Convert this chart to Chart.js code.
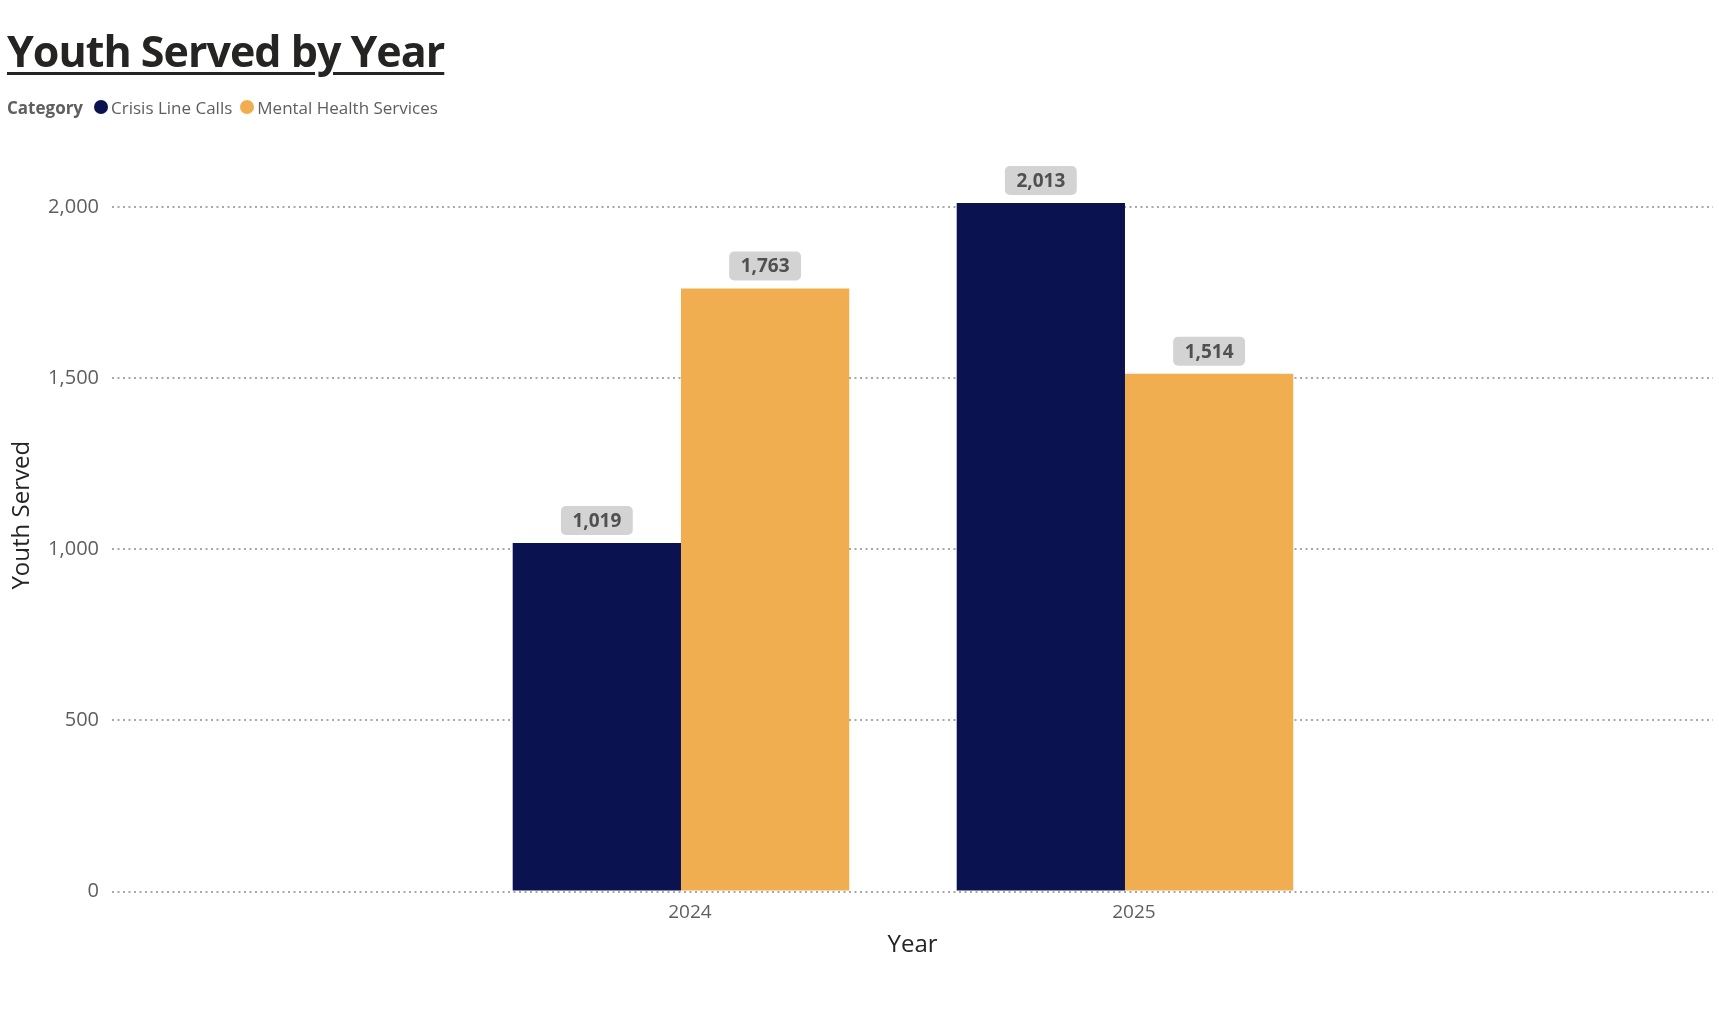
<!DOCTYPE html>
<html>
<head>
<meta charset="utf-8">
<script src="https://cdn.jsdelivr.net/npm/chart.js@4/dist/chart.umd.min.js"></script>
<style>
  html, body { margin:0; padding:0; background:#fff; width:1719px; height:1009px; overflow:hidden; }
  #wrap { position:relative; width:1719px; height:1009px; }
  #chart { position:absolute; left:0; top:0; }
  #title { position:absolute; left:7px; top:23px; margin:0; font-family:'Open Sans', sans-serif; font-weight:700;
           font-size:43px; letter-spacing:-1px; line-height:56px; color:#252423; text-decoration:underline; text-decoration-thickness:3px;
           text-underline-offset:5px; white-space:nowrap; }
  #legend { position:absolute; left:7px; top:95px; height:24px; display:flex; align-items:center;
            font-family:'Open Sans', sans-serif; font-size:17px; color:#605E5C; white-space:nowrap; }
  #legend .lt { font-weight:700; margin-right:11px; color:#605E5C; }
  #legend .dot { width:14px; height:14px; border-radius:50%; display:inline-block; margin-right:3px; }
  #legend .item { display:flex; align-items:center; margin-right:8px; }
</style>
</head>
<body>
<div id="wrap">
  <canvas id="chart" width="1719" height="1009"></canvas>
  <div id="title">Youth Served by Year</div>
  <div id="legend"></div>
</div>
<script>
const categories = ['2024', '2025'];
const crisisLineCalls = [1019, 2013];
const mentalHealthServices = [1763, 1514];
const yTickValues = [0, 500, 1000, 1500, 2000];
const seriesNames = ['Crisis Line Calls', 'Mental Health Services'];
const seriesColors = ['#0A1250', '#F0AE50'];

const FONT = "'Open Sans', sans-serif";

const dataLabelPlugin = {
  id: 'dataLabels',
  afterDatasetsDraw(chart) {
    const ctx = chart.ctx;
    ctx.save();
    ctx.font = "700 19px " + FONT;
    ctx.textAlign = 'center';
    ctx.textBaseline = 'middle';
    chart.data.datasets.forEach((ds, di) => {
      const meta = chart.getDatasetMeta(di);
      meta.data.forEach((bar, i) => {
        const txt = ds.data[i].toLocaleString('en-US');
        const w = ctx.measureText(txt).width + 23;
        const h = 29;
        const x = bar.x;
        const yb = bar.y - 8;
        ctx.fillStyle = '#D3D3D3';
        ctx.beginPath();
        ctx.roundRect(x - w / 2, yb - h, w, h, 5);
        ctx.fill();
        ctx.fillStyle = '#505050';
        ctx.fillText(txt, x, yb - h / 2 + 1);
      });
    });
    ctx.restore();
  }
};

const chart = new Chart(document.getElementById('chart'), {
  type: 'bar',
  data: {
    labels: categories,
    datasets: [
      { label: seriesNames[0], data: crisisLineCalls, backgroundColor: seriesColors[0] },
      { label: seriesNames[1], data: mentalHealthServices, backgroundColor: seriesColors[1] }
    ]
  },
  options: {
    responsive: false,
    animation: false,
    devicePixelRatio: 1,
    layout: { padding: { top: 139, right: 6, bottom: 0, left: 0 } },
    datasets: { bar: { categoryPercentage: 0.758, barPercentage: 1.0, borderWidth: 0 } },
    plugins: { legend: { display: false }, tooltip: { enabled: false }, title: { display: false } },
    scales: {
      x: {
        type: 'category',
        offset: true,
        grid: { display: false },
        border: { display: false },
        ticks: { color: '#605E5C', font: { family: FONT, size: 19 }, padding: 2, labelOffset: 9 },
        title: { display: true, text: 'Year', color: '#252423', font: { family: FONT, size: 24 }, padding: { top: 0, bottom: 49 } },
        afterBuildTicks(scale) { scale._startValue = -1.2815; scale._valueRange = 3.6059; },
        afterFit(scale) { scale.height = 1009 - 891.5; }
      },
      y: {
        min: 0,
        max: 2200,
        afterBuildTicks(scale) { scale.ticks = yTickValues.map(v => ({ value: v })); },
        grid: { color: '#A8A8A8', lineWidth: 2, drawTicks: false },
        border: { display: false, dash: [2, 3.5] },
        ticks: { color: '#605E5C', font: { family: FONT, size: 20 }, padding: 13,
                 callback: v => Number(v).toLocaleString('en-US') },
        title: { display: true, text: 'Youth Served', color: '#252423', font: { family: FONT, size: 24 }, padding: { top: 8 } },
        afterFit(scale) { scale.width = 112; }
      }
    }
  },
  plugins: [dataLabelPlugin]
});

// legend built from the chart's datasets
const lg = document.getElementById('legend');
lg.innerHTML = '<span class="lt">Category</span>' + chart.data.datasets.map(d =>
  '<span class="item"><span class="dot" style="background:' + d.backgroundColor + '"></span>' + d.label + '</span>').join('');
</script>
</body>
</html>
